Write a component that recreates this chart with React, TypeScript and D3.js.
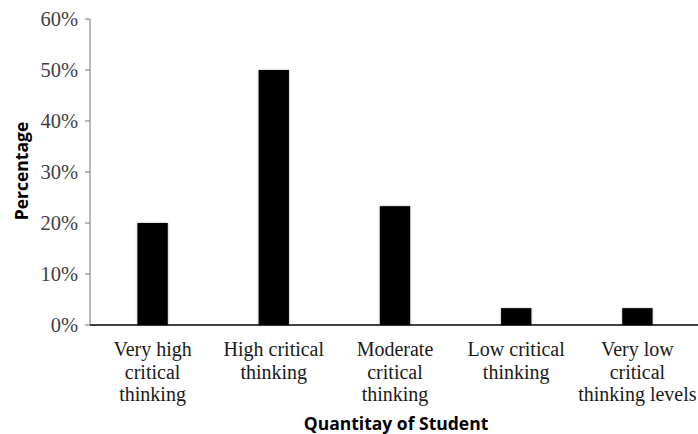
import React, { useEffect } from 'react'
import * as d3 from 'd3'

const categories = [
  ['Very high', 'critical', 'thinking'],
  ['High critical', 'thinking'],
  ['Moderate', 'critical', 'thinking'],
  ['Low critical', 'thinking'],
  ['Very low', 'critical', 'thinking levels'],
]
const percentages = [20, 50, 23.3, 3.3, 3.3]
const yTicks = [0, 10, 20, 30, 40, 50, 60]

const W = 698
const H = 434

export default function App() {
  useEffect(() => {
    document.body.style.margin = '0'
  }, [])

  const x = d3.scaleBand<number>()
    .domain(d3.range(categories.length))
    .range([92, 698])
    .paddingInner(0.75)
    .paddingOuter(0.375)

  const y = d3.scaleLinear().domain([0, 60]).range([325, 19])

  const serif = '"Liberation Serif", "Times New Roman", serif'
  const sans = '"Open Sans", "Noto Sans", sans-serif'

  return (
    <svg width={W} height={H} style={{ display: 'block', background: '#fff' }}>
      <defs>
        <filter id="soft" x="-20%" y="-5%" width="140%" height="110%">
          <feGaussianBlur in="SourceAlpha" stdDeviation="1.2" />
          <feComponentTransfer><feFuncA type="linear" slope="0.35" /></feComponentTransfer>
          <feMerge><feMergeNode /><feMergeNode in="SourceGraphic" /></feMerge>
        </filter>
      </defs>

      {/* y axis */}
      <line x1={90} x2={90} y1={y(60)} y2={y(0)} stroke="#8a8a8a" strokeWidth={1.2} />
      {yTicks.map(t => (
        <g key={t}>
          <line x1={85} x2={90} y1={y(t)} y2={y(t)} stroke="#8a8a8a" strokeWidth={1.2} />
          <text x={78} y={y(t)} dy="0.35em" textAnchor="end" fontFamily={serif}
            fontSize={20.5} fill="#404040">{t}%</text>
        </g>
      ))}

      {/* bars */}
      {percentages.map((v, i) => (
        <rect key={i} x={x(i)} y={y(v)} width={x.bandwidth()} height={y(0) - y(v)}
          fill="#000" filter="url(#soft)" />
      ))}

      {/* x axis */}
      <line x1={90} x2={698} y1={y(0)} y2={y(0)} stroke="#000" strokeWidth={1.5} />

      {categories.map((lines, i) => (
        <text key={i} x={(x(i) ?? 0) + x.bandwidth() / 2} textAnchor="middle"
          fontFamily={serif} fontSize={20} fill="#1a1a1a">
          {lines.map((l, j) => (
            <tspan key={j} x={(x(i) ?? 0) + x.bandwidth() / 2} y={356 + j * 22.5}>{l}</tspan>
          ))}
        </text>
      ))}

      <text x={396} y={430} textAnchor="middle" fontFamily={sans} fontWeight="bold"
        fontSize={17.5} fill="#000">Quantitay of Student</text>
      <text transform="translate(28,171) rotate(-90)" textAnchor="middle" fontFamily={sans}
        fontWeight="bold" fontSize={17.5} fill="#000">Percentage</text>
    </svg>
  )
}
